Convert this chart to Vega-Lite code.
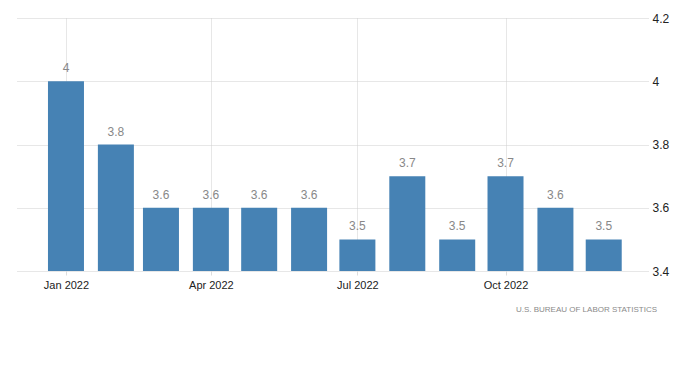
{
  "$schema": "https://vega.github.io/schema/vega-lite/v6.json",
  "autosize": "none",
  "width": 631,
  "height": 253,
  "padding": {"left": 17, "top": 18, "right": 52, "bottom": 94},
  "background": "white",
  "config": {"view": {"stroke": null}, "font": "Arial"},
  "title": {
    "text": "U.S.  BUREAU  OF  LABOR  STATISTICS",
    "orient": "bottom",
    "anchor": "end",
    "frame": "group",
    "dx": 9,
    "offset": 16,
    "fontSize": 8,
    "fontWeight": "normal",
    "color": "#8a8a8a",
    "font": "Arial"
  },
  "data": {
    "values": [
      {"date": "2022-01-01", "value": 4.0},
      {"date": "2022-02-01", "value": 3.8},
      {"date": "2022-03-01", "value": 3.6},
      {"date": "2022-04-01", "value": 3.6},
      {"date": "2022-05-01", "value": 3.6},
      {"date": "2022-06-01", "value": 3.6},
      {"date": "2022-07-01", "value": 3.5},
      {"date": "2022-08-01", "value": 3.7},
      {"date": "2022-09-01", "value": 3.5},
      {"date": "2022-10-01", "value": 3.7},
      {"date": "2022-11-01", "value": 3.6},
      {"date": "2022-12-01", "value": 3.5}
    ]
  },
  "encoding": {
    "x": {
      "field": "date",
      "type": "temporal",
      "scale": {"domain": ["2021-12-01T14:00:00", "2022-12-28T12:00:00"], "nice": false, "padding": 0},
      "axis": {
        "title": null,
        "values": ["2022-01-01T00:00:00", "2022-04-01T00:00:00", "2022-07-01T00:00:00", "2022-10-01T00:00:00"],
        "format": "%b %Y",
        "labelFontSize": 11,
        "labelColor": "#222",
        "labelFont": "Arial",
        "labelPadding": 4,
        "domain": false,
        "ticks": true,
        "tickSize": 4,
        "tickColor": "#ddd",
        "grid": true,
        "gridColor": "#cfcfcf",
        "gridDash": [1, 1],
        "gridWidth": 1
      }
    },
    "y": {
      "field": "value",
      "type": "quantitative",
      "scale": {"domain": [3.4, 4.2], "zero": false, "nice": false},
      "axis": {
        "title": null,
        "orient": "right",
        "values": [3.4, 3.6, 3.8, 4.0, 4.2],
        "format": "~g",
        "labelFontSize": 12,
        "labelColor": "#222",
        "labelFont": "Arial",
        "labelPadding": 4,
        "domain": false,
        "ticks": false,
        "grid": true,
        "gridColor": "#cfcfcf",
        "gridDash": [1, 1],
        "gridWidth": 1
      }
    }
  },
  "layer": [
    {
      "mark": {"type": "bar", "width": 36, "color": "#4682b4"},
      "encoding": {"y2": {"datum": 3.4}}
    },
    {
      "mark": {"type": "text", "baseline": "bottom", "dy": -6, "fontSize": 12, "color": "#888", "font": "Arial"},
      "encoding": {"text": {"field": "value", "type": "quantitative", "format": "~g"}}
    }
  ]
}
